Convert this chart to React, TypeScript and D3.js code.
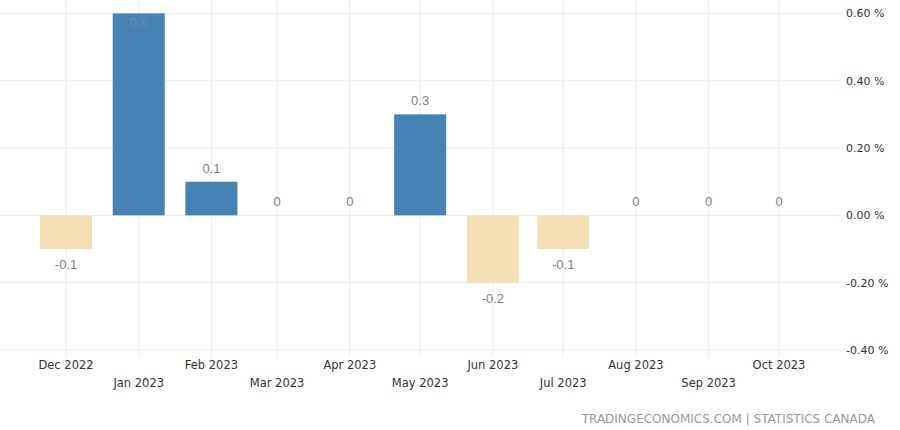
import React from "react";
import * as d3 from "d3";

const months = ["2022-12-01","2023-01-01","2023-02-01","2023-03-01","2023-04-01","2023-05-01","2023-06-01","2023-07-01","2023-08-01","2023-09-01","2023-10-01"];
const tickLabels = ["Dec 2022","Jan 2023","Feb 2023","Mar 2023","Apr 2023","May 2023","Jun 2023","Jul 2023","Aug 2023","Sep 2023","Oct 2023"];
const values = [-0.1, 0.6, 0.1, 0, 0, 0.3, -0.2, -0.1, 0, 0, 0];
const valueLabels = ["-0.1","0.6","0.1","0","0","0.3","-0.2","-0.1","0","0","0"];
const yTicks = [-0.4, -0.2, 0, 0.2, 0.4, 0.6];

const W = 900, H = 430;
const parse = d3.timeParse("%Y-%m-%d");

export default function App() {
  const dates = months.map(m => parse(m) as Date);
  const x = d3.scaleTime().domain([dates[0], dates[dates.length - 1]]).range([66, 779]);
  const y = d3.scaleLinear().domain([-0.4, 0.6]).range([350, 13.4]);
  const barW = 52;
  const plotRight = 843;
  const labelFont = "'Liberation Sans', Arial, sans-serif";
  const axisFont = "'DejaVu Sans', Tahoma, sans-serif";
  return (
    <svg width={W} height={H} style={{ position: "absolute", left: 0, top: 0, background: "#fff" }}>
      {yTicks.map((t, i) => (
        <line key={"h" + i} x1={0} x2={plotRight} y1={y(t)} y2={y(t)} stroke="#ececec" strokeWidth={1} />
      ))}
      {dates.map((d, i) => (
        <line key={"v" + i} x1={x(d)} x2={x(d)} y1={0} y2={357} stroke="#ececec" strokeWidth={1} />
      ))}
      {dates.map((d, i) => {
        const v = values[i];
        if (v === 0) return null;
        const y0 = y(0), y1 = y(v);
        return (
          <rect key={"b" + i} x={x(d) - barW / 2} width={barW} y={Math.min(y0, y1)} height={Math.abs(y1 - y0)}
            fill={v > 0 ? "#4682b4" : "#f5deb3"} />
        );
      })}
      {dates.map((d, i) => {
        const v = values[i];
        let ly: number;
        if (v > 0) {
          ly = y(v) - 9;
          if (ly < 14) ly = y(v) + 14;
        } else if (v < 0) {
          ly = y(v) + 20;
        } else {
          ly = y(0) - 9;
        }
        return (
          <text key={"l" + i} x={x(d)} y={ly} textAnchor="middle" fontFamily={labelFont} fontSize={13}
            fill={v > 0 && y(v) - 9 < 14 ? "#6f8aa3" : "#808080"}>
            {valueLabels[i]}
          </text>
        );
      })}
      {dates.map((d, i) => (
        <text key={"x" + i} x={x(d)} y={i % 2 === 0 ? 369 : 387} textAnchor="middle" fontFamily={axisFont}
          fontSize={11.5} fill="#333">
          {tickLabels[i]}
        </text>
      ))}
      {yTicks.map((t, i) => (
        <text key={"y" + i} x={846} y={y(t) + 4} fontFamily={axisFont} fontSize={11} fill="#333">
          {t.toFixed(2) + " %"}
        </text>
      ))}
      <text x={875} y={423} textAnchor="end" fontFamily={axisFont} fontSize={12} fill="#999">
        TRADINGECONOMICS.COM | STATISTICS CANADA
      </text>
    </svg>
  );
}
